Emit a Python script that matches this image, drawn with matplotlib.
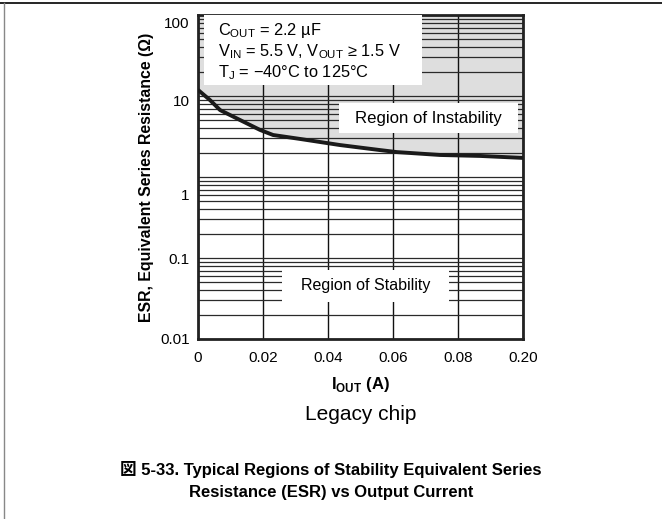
import numpy as np
import matplotlib
matplotlib.use('Agg')
import matplotlib.pyplot as plt
from matplotlib.patches import Rectangle
from matplotlib.lines import Line2D
from matplotlib.transforms import ScaledTranslation
from matplotlib.ticker import LogLocator, NullFormatter

plt.rcParams['font.family'] = ['Liberation Sans', 'Noto Sans CJK JP', 'DejaVu Sans']
plt.rcParams['mathtext.fontset'] = 'custom'
plt.rcParams['mathtext.rm'] = 'Liberation Sans'
plt.rcParams['mathtext.bf'] = 'Liberation Sans:bold'

# boundary curve
iout = [0, 0.0037, 0.0068, 0.0129, 0.0191, 0.0231, 0.0314, 0.0437, 0.056, 0.0612, 0.0745, 0.0868, 0.10]
esr = [11.9, 8.9, 6.7, 5.06, 3.81, 3.30, 2.95, 2.48, 2.15, 2.03, 1.87, 1.82, 1.72]

xticks = [0, 0.02, 0.04, 0.06, 0.08, 0.10]
xticklabels = ['0', '0.02', '0.04', '0.06', '0.08', '0.20']
yticks = [0.01, 0.1, 1, 10, 100]
yticklabels = ['0.01', '0.1', '1', '10', '100']
# the printed labels sit a bit lower than their gridlines (pixels)
ylabel_shift = [0, 0, 17, 4, 7]

fig = plt.figure(figsize=(6.62, 5.19), dpi=100)
ax = fig.add_axes([198/662, 1 - 339/519, 325/662, 324/519])

ax.set_yscale('log')
ax.set_xlim(0, 0.10)
ax.set_ylim(0.01, 100)

ax.fill_between(iout, esr, 100, color='#dedede', lw=0, zorder=1)
ax.plot(iout, esr, color='#1a1a1a', lw=2.8, solid_capstyle='butt', zorder=2.6)

ax.set_xticks(xticks)
ax.set_xticklabels(xticklabels, fontsize=11)
ax.set_yticks(yticks)
ax.set_yticklabels(yticklabels, fontsize=11)
ax.yaxis.set_minor_locator(LogLocator(base=10, subs=np.arange(2, 10)))
ax.yaxis.set_minor_formatter(NullFormatter())
ax.tick_params(which='both', length=0)
ax.tick_params(axis='x', pad=9)
ax.tick_params(axis='y', pad=6)

for lab, dy in zip(ax.get_yticklabels(), ylabel_shift):
    lab.set_transform(lab.get_transform() + ScaledTranslation(0, -dy / 100, fig.dpi_scale_trans))

ax.grid(True, which='both', axis='y', color='#2a2a2a', lw=0.9)
ax.grid(True, which='major', axis='x', color='#111111', lw=1.0)

for s in ax.spines.values():
    s.set_linewidth(2.0)
    s.set_color('#222222')

ax.set_ylabel('ESR, Equivalent Series Resistance (\u03A9)', fontsize=11.4, fontweight='bold', labelpad=4.5)
ax.set_xlabel(r'I$_\mathbf{OUT}$ (A)', fontsize=12, fontweight='bold', labelpad=7)

# condition box
ax.add_patch(Rectangle((0.018, 0.784), 0.671, 0.216, transform=ax.transAxes,
                       facecolor='white', edgecolor='none', zorder=3))
cond = ['C$_\\mathregular{OUT}$ = 2.2 \u00b5F',
        'V$_\\mathregular{IN}$ = 5.5 V, V$_\\mathregular{OUT}$ \u2265 1.5 V',
        'T$_\\mathregular{J}$ = \u221240\u00b0C to 125\u00b0C']
for i, line in enumerate(cond):
    ax.text(0.06, 0.951 - i * 0.064, line, transform=ax.transAxes, fontsize=11.8,
            va='center', ha='left', zorder=4)

ax.add_patch(Rectangle((0.434, 0.636), 0.551, 0.092, transform=ax.transAxes,
                       facecolor='white', edgecolor='none', zorder=3))
ax.text(0.709, 0.682, 'Region of Instability', transform=ax.transAxes, fontsize=12.1,
        ha='center', va='center', zorder=4)

ax.add_patch(Rectangle((0.258, 0.114), 0.514, 0.099, transform=ax.transAxes,
                       facecolor='white', edgecolor='none', zorder=3))
ax.text(0.515, 0.164, 'Region of Stability', transform=ax.transAxes, fontsize=11.5,
        ha='center', va='center', zorder=4)

fig.text(360.5/662, 1 - 415/519, 'Legacy chip', fontsize=15, ha='center', va='center')
fig.text(0.5, 1 - 470/519, '\u56f3 5-33. Typical Regions of Stability Equivalent Series',
         fontsize=12, fontweight='bold', ha='center', va='center')
fig.text(0.5, 1 - 492/519, 'Resistance (ESR) vs Output Current',
         fontsize=12, fontweight='bold', ha='center', va='center')

# page frame
fig.add_artist(Line2D([0, 1], [1 - 2.5/519] * 2, color='black', lw=1.2))
fig.add_artist(Line2D([3.8/662] * 2, [0, 1 - 2.5/519], color='#888888', lw=1.0))

fig.savefig('out.png', dpi=100)
